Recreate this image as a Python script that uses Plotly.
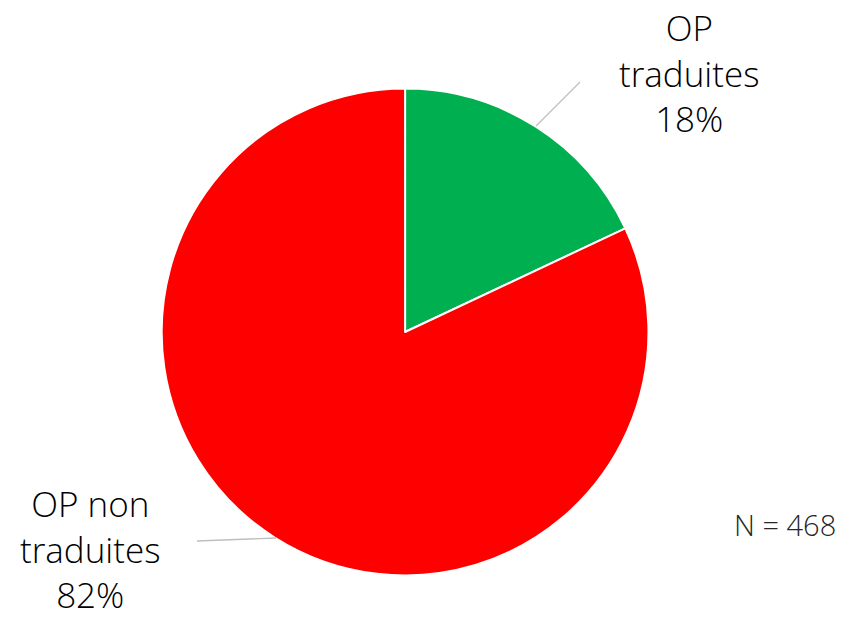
import plotly.graph_objects as go

# Share of OP (translated vs not translated), percent of total
categories = ["OP traduites", "OP non traduites"]
shares = [18, 82]
colors = ["#00B050", "#FF0000"]
sample_size = 468

W, H = 851, 620
FONT = "Open Sans"

fig = go.Figure(
    go.Pie(
        labels=categories,
        values=shares,
        sort=False,
        direction="clockwise",
        rotation=0,
        textinfo="none",
        hoverinfo="label+percent",
        marker=dict(colors=colors, line=dict(color="white", width=2)),
        domain=dict(x=[0.190, 0.762], y=[0.0718, 0.8572]),
        showlegend=False,
    )
)

def label_text(name, value):
    words = name.split(" ")
    head = " ".join(words[:-1])
    return f"{head}<br>{words[-1]}<br>{value}%"

# Outside labels with gray leader lines
label_pos = [(689, 73), (90, 549)]
leaders = [((536, 126), (580, 82)), ((197, 541), (276, 538))]

for name, value, (lx, ly) in zip(categories, shares, label_pos):
    fig.add_annotation(
        x=lx / W, y=1 - ly / H, xref="paper", yref="paper",
        text=label_text(name, value), showarrow=False,
        xanchor="center", yanchor="middle", align="center",
        font=dict(family=FONT, size=35, color="#000000", weight=300),
    )

for (x0, y0), (x1, y1) in leaders:
    fig.add_shape(
        type="line", xref="paper", yref="paper",
        x0=x0 / W, y0=1 - y0 / H, x1=x1 / W, y1=1 - y1 / H,
        line=dict(color="#BFBFBF", width=1.3),
    )

fig.add_annotation(
    x=785 / W, y=1 - 524 / H, xref="paper", yref="paper",
    text=f"N = {sample_size}", showarrow=False,
    xanchor="center", yanchor="middle",
    font=dict(family=FONT, size=29, color="#262626", weight=300),
)

fig.update_layout(
    width=W, height=H,
    margin=dict(l=0, r=0, t=0, b=0),
    paper_bgcolor="white",
    plot_bgcolor="white",
    font=dict(family=FONT),
)

fig.write_html("out.html")
